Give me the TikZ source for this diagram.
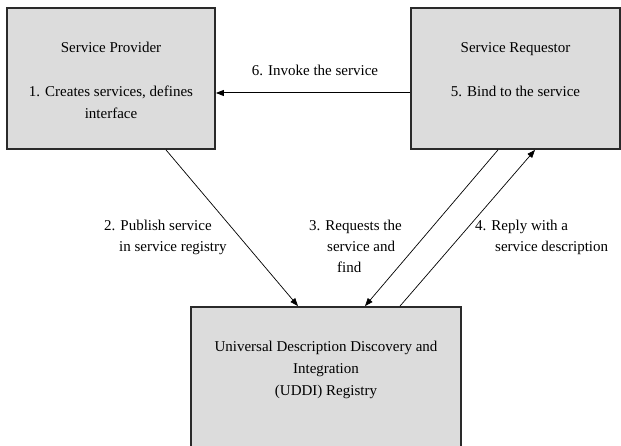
\documentclass[tikz,border=0pt]{standalone}
\usepackage{fontspec}
\setmainfont{Liberation Serif}
\usetikzlibrary{arrows.meta}
\definecolor{boxfill}{HTML}{DCDCDC}
\definecolor{boxline}{HTML}{2A2A2A}
\tikzset{
  box/.style={draw=boxline, fill=boxfill, line width=1.8pt, rectangle, inner sep=0pt},
  boxtext/.style={font=\fontsize{15}{22}\selectfont, align=center, inner sep=0pt, anchor=north},
  lbl/.style={font=\fontsize{15}{21}\selectfont, align=left, inner sep=0pt, anchor=north west},
  arr/.style={draw=black, line width=0.7pt, -{Triangle[length=8pt,width=6pt]}},
}
\begin{document}
\begin{tikzpicture}[x=1pt,y=-1pt]
\useasboundingbox (0,0) rectangle (621,446);
\clip (0,0) rectangle (621,446);
\node[box, minimum width=208pt, minimum height=141pt] (prov) at (111,78.5) {};
\node[box, minimum width=209pt, minimum height=141pt] (req) at (515.5,78.5) {};
\node[box, minimum width=270pt, minimum height=143pt] (uddi) at (326,378.5) {};
\node[boxtext] (provt) at (111,42) {Service Provider\\[22pt]1. Creates services, defines\\interface};
\node[boxtext] (reqt) at (515.5,42) {Service Requestor\\[22pt]5. Bind to the service};
\node[boxtext] (uddit) at (326,341) {Universal Description Discovery and\\Integration\\(UDDI) Registry};
\draw[arr, line width=1pt] ([yshift=-14.5pt]req.west) -- ([yshift=-14.5pt]prov.east);
\draw[arr] ([xshift=55pt]prov.south) -- ([xshift=-28pt]uddi.north);
\draw[arr] ([xshift=-17.5pt]req.south) -- ([xshift=39pt]uddi.north);
\draw[arr] ([xshift=74pt]uddi.north) -- ([xshift=19.5pt]req.south);
\node[boxtext] (l6) at (315,65) {6. Invoke the service};
\node[lbl] (l2) at (104,220) {2. Publish service\\\hspace*{15pt}in service registry};
\node[lbl] (l3) at (309,220) {3. Requests the\\\hspace*{18pt}service and\\\hspace*{28pt}find};
\node[lbl] (l4) at (475,220) {4. Reply with a\\\hspace*{20pt}service description};
\end{tikzpicture}
\end{document}
